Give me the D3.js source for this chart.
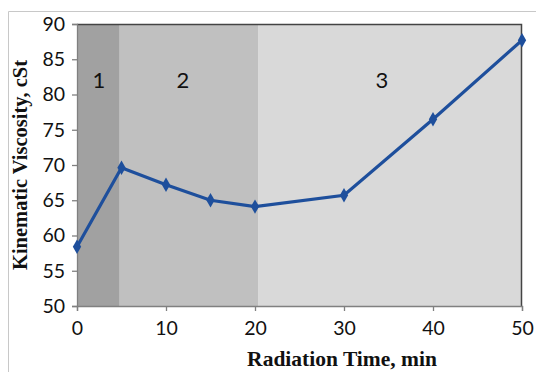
<!DOCTYPE html>
<html>
<head>
<meta charset="utf-8">
<script src="https://d3js.org/d3.v7.min.js"></script>
<style>
  body { margin: 0; background: #fff; }
  svg { display: block; }
</style>
</head>
<body>
<div id="chart"></div>
<script>
var times = [0, 5, 10, 15, 20, 30, 40, 50];
var viscosity = [58.4, 69.6, 67.2, 65.0, 64.1, 65.7, 76.5, 87.7];
var xTicks = [0, 10, 20, 30, 40, 50];
var yTicks = [50, 55, 60, 65, 70, 75, 80, 85, 90];
var zoneNames = ["1", "2", "3"];
var zoneStart = [0, 4.8, 20.4];
var zoneEnd = [4.8, 20.4, 50];
var zoneColors = ["#a1a1a1", "#c0c0c0", "#d9d9d9"];

var margin = { top: 24, right: 14, bottom: 66, left: 77 },
    width = 536 - margin.left - margin.right,
    height = 372 - margin.top - margin.bottom;

var root = d3.select("#chart")
    .append("svg")
    .attr("width", 536)
    .attr("height", 372);

// outer light frame
root.append("path")
    .attr("d", "M8.5,372 V11.5 H536")
    .attr("fill", "none")
    .attr("stroke", "#c8c8c8")
    .attr("stroke-width", 1);

var svg = root.append("g")
    .attr("transform", "translate(" + margin.left + "," + margin.top + ")");

var x = d3.scaleLinear().domain([0, 50]).range([0, width]);
var y = d3.scaleLinear().domain([50, 90]).range([height, 0]);

// shaded zones
svg.selectAll(".zone")
    .data(zoneNames)
    .enter()
    .append("rect")
    .attr("class", "zone")
    .attr("x", (d, i) => x(zoneStart[i]))
    .attr("y", 0)
    .attr("width", (d, i) => x(zoneEnd[i]) - x(zoneStart[i]))
    .attr("height", height)
    .attr("fill", (d, i) => zoneColors[i]);

svg.selectAll(".zone-label")
    .data(zoneNames)
    .enter()
    .append("text")
    .attr("class", "zone-label")
    .attr("x", (d, i) => [99, 183, 382][i] - margin.left)
    .attr("y", 88 - margin.top)
    .attr("text-anchor", "middle")
    .style("font-family", "Lato, 'Open Sans', sans-serif")
    .style("font-size", "22px")
    .attr("fill", "#111")
    .text(d => d);

// top and right border
svg.append("path")
    .attr("d", "M0,0.5 H" + (width - 0.5) + " V" + height)
    .attr("fill", "none")
    .attr("stroke", "#444")
    .attr("stroke-width", 1.5);

// axes
svg.append("g")
    .attr("class", "axis")
    .call(d3.axisLeft(y).tickValues(yTicks).tickSize(5).tickPadding(7));

svg.append("g")
    .attr("class", "axis")
    .attr("transform", "translate(0," + height + ")")
    .call(d3.axisBottom(x).tickValues(xTicks).tickSize(5).tickPadding(10));

svg.selectAll(".axis path, .axis line").attr("stroke", "#808080").attr("stroke-width", 1.3);
svg.selectAll(".axis text")
    .style("font-family", "Lato, 'Open Sans', sans-serif")
    .style("font-size", "19.5px")
    .attr("fill", "#111");

// series
var line = d3.line()
    .x((d, i) => x(times[i]))
    .y(d => y(d));

svg.append("path")
    .datum(viscosity)
    .attr("fill", "none")
    .attr("stroke", "#1e4f9c")
    .attr("stroke-width", 3.2)
    .attr("d", line);

svg.selectAll(".pt")
    .data(viscosity)
    .enter()
    .append("path")
    .attr("class", "pt")
    .attr("transform", (d, i) => "translate(" + x(times[i]) + "," + y(d) + ")")
    .attr("d", d3.symbol().type(d3.symbolDiamond).size(60))
    .attr("fill", "#1e4f9c");

// titles
root.append("text")
    .attr("transform", "translate(27," + 165 + ") rotate(-90)")
    .attr("text-anchor", "middle")
    .style("font-family", "'Liberation Serif', 'Times New Roman', serif")
    .style("font-weight", "bold")
    .style("font-size", "20.5px")
    .attr("fill", "#111")
    .text("Kinematic Viscosity, cSt");

root.append("text")
    .attr("x", 342)
    .attr("y", 366)
    .attr("text-anchor", "middle")
    .style("font-family", "'Liberation Serif', 'Times New Roman', serif")
    .style("font-weight", "bold")
    .style("font-size", "21.5px")
    .attr("fill", "#111")
    .text("Radiation Time, min");
</script>
</body>
</html>
